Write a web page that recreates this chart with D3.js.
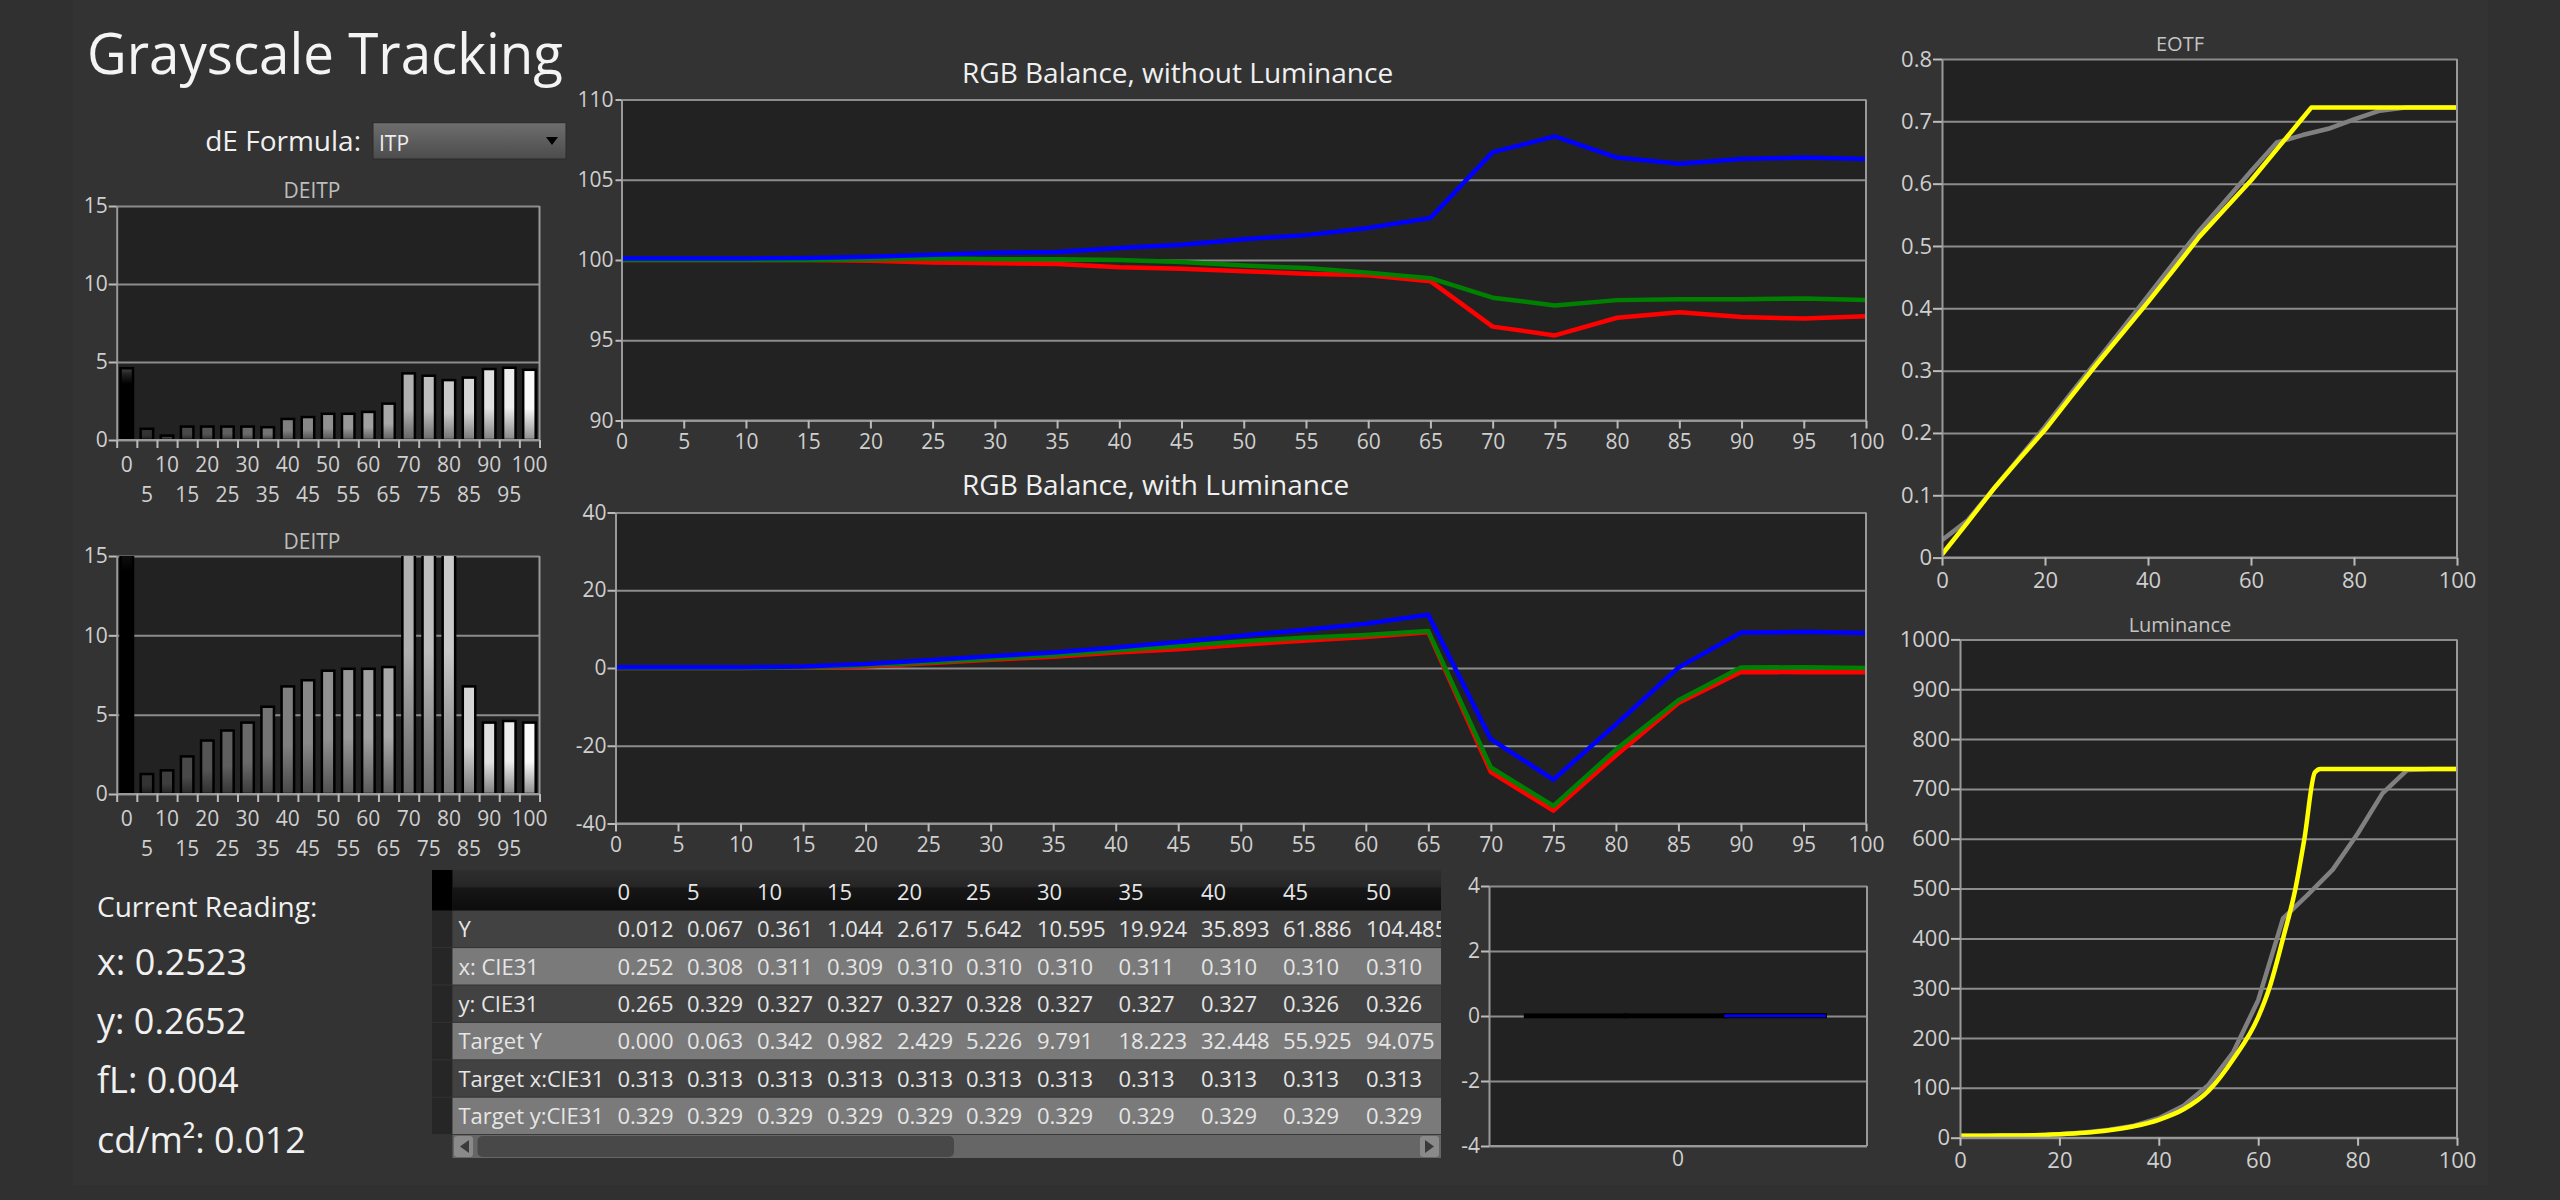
<!DOCTYPE html>
<html><head><meta charset="utf-8">
<script src="https://cdn.jsdelivr.net/npm/d3@7"></script>
<style>
html,body{margin:0;padding:0;background:#303030}
svg{display:block}
text{font-family:"Open Sans",sans-serif}
</style></head><body>
<svg id="c" width="2560" height="1200"></svg>
<script>
// ---------- data ----------
const stimulus = [0,5,10,15,20,25,30,35,40,45,50,55,60,65,70,75,80,85,90,95,100];
const deTop    = [4.6,0.72,0.28,0.86,0.86,0.86,0.86,0.82,1.35,1.47,1.68,1.68,1.8,2.33,4.27,4.12,3.84,4.0,4.55,4.63,4.5];
const deBottom = [18,1.26,1.49,2.37,3.37,4.0,4.5,5.5,6.78,7.17,7.77,7.89,7.89,8.0,20,20,20,6.78,4.5,4.6,4.5];

const balanceBlue  = [100.1,100.1,100.1,100.12,100.2,100.32,100.45,100.5,100.75,100.95,101.3,101.55,102,102.62,106.72,107.7,106.38,106,106.3,106.38,106.3];
const balanceGreen = [100,100,100,100,100.05,100.1,100.05,100.05,100,99.88,99.65,99.5,99.2,98.87,97.65,97.17,97.5,97.55,97.56,97.6,97.5];
const balanceRed   = [100,100,100,100,99.95,99.85,99.8,99.75,99.55,99.45,99.3,99.15,99.05,98.68,95.85,95.3,96.4,96.75,96.45,96.35,96.5];

const lumBlue  = [0.2,0.2,0.2,0.4,1,2,3,4,5.3,6.7,8.3,9.8,11.4,13.7,-18.3,-28.7,-14.5,0.1,9.1,9.3,9];
const lumGreen = [0,0,0,0.2,0.7,1.5,2.4,3.3,4.5,5.6,6.8,7.8,8.5,9.5,-25.6,-35.5,-21,-8.3,0.1,0.2,0];
const lumRed   = [0,0,0,0.1,0.4,1.2,2.1,2.9,4,4.8,6,7,8,9.2,-26.8,-36.7,-22.5,-9,-1,-1.1,-1.1];

const eotfTargetX = [0,5,10,15,20,25,30,35,40,45,50,55,60,65,70,71.7,75,80,85,90,95,100];
const eotfTargetY = [0.005,0.057,0.11,0.158,0.205,0.258,0.31,0.36,0.41,0.462,0.515,0.56,0.605,0.655,0.705,0.722,0.722,0.722,0.722,0.722,0.722,0.722];
const eotfMeasuredY = [0.028,0.06,0.11,0.16,0.21,0.263,0.315,0.367,0.42,0.473,0.525,0.572,0.62,0.666,0.678,0.688,0.703,0.717,0.722,0.722,0.722];

const lumTargetX = [0,5,10,15,20,25,30,35,40,45,50,55,60,62.3,65,67.5,69.3,71.4,72.5,75,80,85,90,95,100];
const lumTargetY = [4,4,4.5,5,7,10,15,23,36,57,94,158,242,302,400,500,600,733,740,740,740,740,740,740,740];
const lumMeasuredY = [4,4,4.5,5,7,10.5,16,24,39,64,106,172,276,440,488,538,610,691,738,740,740];

const smallCategory = ["0"];
const smallSeries = ["R","G","B"];
const smallValues = [0.01,0.01,0.02];

const tableColumns = ["0","5","10","15","20","25","30","35","40","45","50"];
const rowLabels = ["Y","x: CIE31","y: CIE31","Target Y","Target x:CIE31","Target y:CIE31"];
const rowY  = ["0.012","0.067","0.361","1.044","2.617","5.642","10.595","19.924","35.893","61.886","104.485"];
const rowX31 = ["0.252","0.308","0.311","0.309","0.310","0.310","0.310","0.311","0.310","0.310","0.310"];
const rowY31 = ["0.265","0.329","0.327","0.327","0.327","0.328","0.327","0.327","0.327","0.326","0.326"];
const rowTY = ["0.000","0.063","0.342","0.982","2.429","5.226","9.791","18.223","32.448","55.925","94.075"];
const rowTX = ["0.313","0.313","0.313","0.313","0.313","0.313","0.313","0.313","0.313","0.313","0.313"];
const rowTy2 = ["0.329","0.329","0.329","0.329","0.329","0.329","0.329","0.329","0.329","0.329","0.329"];
const readings = ["x: 0.2523","y: 0.2652","fL: 0.004","cd/m²: 0.012"];

// ---------- layout ----------
const svg = d3.select("#c");
const defs = svg.append("defs");
const GRID="#8c8c8c", LABEL="#cfcfcf", PLOT="#222222";
let clipN=0;

const panelGrad = defs.append("linearGradient").attr("id","hdr").attr("x1",0).attr("x2",0).attr("y1",0).attr("y2",1);
panelGrad.selectAll("stop").data([[0,"#2e2e2e"],[0.4,"#262626"],[0.45,"#161616"],[1,"#0c0c0c"]]).join("stop").attr("offset",d=>d[0]).attr("stop-color",d=>d[1]);
const ddGrad = defs.append("linearGradient").attr("id","dd").attr("x1",0).attr("x2",0).attr("y1",0).attr("y2",1);
ddGrad.selectAll("stop").data([[0,"#6e6e6e"],[1,"#4c4c4c"]]).join("stop").attr("offset",d=>d[0]).attr("stop-color",d=>d[1]);

svg.append("rect").attr("width",2560).attr("height",1200).attr("fill","#303030");
svg.append("rect").attr("x",73).attr("y",0).attr("width",2415).attr("height",1185).attr("fill","#333333");

function text(x,y,s,size,opts={}){
  const t=svg.append("text").attr("x",x).attr("y",y).text(s)
    .attr("font-size",size).attr("fill",opts.fill||"#f0f0f0")
    .attr("text-anchor",opts.anchor||"start");
  if(opts.length) t.attr("textLength",opts.length).attr("lengthAdjust","spacingAndGlyphs");
  return t;
}

function frame(box,x,y,yTicks,opt={}){
  const w=box.x1-box.x0,h=box.y1-box.y0;
  const g=svg.append("g").attr("transform",`translate(${box.x0},${box.y0})`);
  g.append("rect").attr("width",w).attr("height",h).attr("fill",PLOT);
  const grid=g.append("g").call(d3.axisLeft(y).tickValues(yTicks).tickSize(-w).tickFormat(""));
  grid.select(".domain").remove();
  grid.selectAll("line").attr("stroke",GRID).attr("stroke-width",2);
  const id="clip"+(clipN++);
  defs.append("clipPath").attr("id",id).append("rect").attr("width",w).attr("height",h);
  const marks=g.append("g").attr("clip-path",`url(#${id})`);
  const ya=g.append("g").call(d3.axisLeft(y).tickValues(yTicks).tickSize(opt.yTick||8).tickPadding(opt.yPad||1).tickSizeOuter(0).tickFormat(String));
  ya.select(".domain").attr("stroke","#999").attr("stroke-width",2);
  ya.selectAll("line").attr("stroke","#bbb").attr("stroke-width",2);
  ya.selectAll("text").attr("font-size",opt.font||21).attr("fill",LABEL).attr("font-family","Open Sans");
  g.append("line").attr("x1",w).attr("x2",w).attr("y1",0).attr("y2",h).attr("stroke","#999").attr("stroke-width",2);
  g.append("line").attr("x1",0).attr("x2",w).attr("y1",h).attr("y2",h).attr("stroke","#999").attr("stroke-width",2);
  if(x){
    const xa=g.append("g").attr("transform",`translate(0,${h})`).call(d3.axisBottom(x).tickValues(opt.xTicks||x.domain()).tickSize(opt.xTick===undefined?8:opt.xTick).tickPadding(opt.xPad||7).tickSizeOuter(0).tickFormat(String));
    xa.select(".domain").remove();
    xa.selectAll("line").attr("stroke","#bbb").attr("stroke-width",2);
    xa.selectAll("text").attr("font-size",opt.font||21).attr("fill",LABEL).attr("font-family","Open Sans");
  }
  return {g,marks,w,h};
}

// ---------- bar charts ----------
const gray = d3.scaleLinear().domain([0,5,40,70,100]).range([0,52,130,180,255]);
stimulus.forEach(s=>{
  const l=gray(s);
  const c=v=>d3.rgb(v,v,v).formatHex();
  const stops = s===0 ? [[0,"#444444"],[0.08,"#222222"],[0.22,"#000000"],[1,"#000000"]]
                      : [[0,c(l*0.98)],[0.55,c(Math.min(255,l*0.98))],[1,c(l*0.55)]];
  defs.append("linearGradient").attr("id","bar"+s).attr("x1",0).attr("x2",0).attr("y1",0).attr("y2",1)
    .selectAll("stop").data(stops).join("stop").attr("offset",d=>d[0]).attr("stop-color",d=>d[1]);
});
function barChart(box,values,title,titleY){
  const w=box.x1-box.x0,h=box.y1-box.y0;
  const x=d3.scaleBand().domain(stimulus).range([0,w]);
  const y=d3.scaleLinear().domain([0,15]).range([h,0]);
  const f=frame(box,null,y,[0,5,10,15]);
  f.marks.selectAll("rect").data(stimulus).join("rect")
    .attr("x",d=>x(d)+x.bandwidth()*0.19).attr("width",x.bandwidth()*0.62)
    .attr("y",(d,i)=>y(values[i])).attr("height",(d,i)=>h-y(values[i]))
    .attr("fill",d=>`url(#bar${d})`).attr("stroke","#000").attr("stroke-width",2.5);
  const edges=d3.scaleLinear().domain([0,stimulus.length]).range([0,w]);
  const tk=f.g.append("g").attr("transform",`translate(0,${h})`).call(d3.axisBottom(edges).tickValues(d3.range(stimulus.length+1)).tickSize(8).tickFormat("").tickSizeOuter(0));
  tk.select(".domain").remove();
  tk.selectAll("line").attr("stroke","#bbb").attr("stroke-width",2);
  const lb=f.g.append("g").attr("transform",`translate(0,${h})`).call(d3.axisBottom(x).tickSize(0).tickPadding(0));
  lb.select(".domain").remove();
  lb.selectAll("line").remove();
  lb.selectAll("text").attr("font-size",21).attr("fill",LABEL).attr("font-family","Open Sans")
    .attr("dy",0).attr("y",(d,i)=>i%2?62:32);
  text(312,titleY,title,21,{fill:"#bdbdbd",anchor:"middle"});
}
barChart({x0:116.7,x1:539.5,y0:206,y1:440},deTop,"DEITP",198);
barChart({x0:116.7,x1:539.5,y0:556,y1:794},deBottom,"DEITP",549);

// ---------- line charts ----------
function lineChart(box,xs,domainY,yTicks,xTicks,series,opt){
  const w=box.x1-box.x0,h=box.y1-box.y0;
  const x=d3.scaleLinear().domain([0,100]).range([0,w]);
  const y=d3.scaleLinear().domain(domainY).range([h,0]);
  const f=frame(box,x,y,yTicks,Object.assign({xTicks},opt));
  series.forEach(s=>{
    const sx=s.x||xs;
    const line=d3.line().x((d,i)=>x(sx[i])).y(d=>y(d));
    if(s.curve) line.curve(s.curve);
    f.marks.append("path").attr("d",line(s.v)).attr("fill","none").attr("stroke",s.c)
      .attr("stroke-width",s.w||4.5).attr("stroke-linejoin","round");
  });
}
lineChart({x0:621.5,x1:1866,y0:99.5,y1:420.5},stimulus,[90,110],[90,95,100,105,110],stimulus,
  [{v:balanceRed,c:"#ff0000"},{v:balanceGreen,c:"#008000"},{v:balanceBlue,c:"#0000ff"}],{yTick:6,yPad:2,xPad:6});
lineChart({x0:615.5,x1:1866,y0:512.5,y1:823.5},stimulus,[-40,40],[-40,-20,0,20,40],stimulus,
  [{v:lumRed,c:"#ff0000"},{v:lumGreen,c:"#008000"},{v:lumBlue,c:"#0000ff"}],{yTick:8,yPad:1,xPad:6});
lineChart({x0:1942,x1:2457,y0:59,y1:557.6},stimulus,[0,0.8],[0,.1,.2,.3,.4,.5,.6,.7,.8],[0,20,40,60,80,100],
  [{v:eotfMeasuredY,c:"#808080"},{v:eotfTargetY,x:eotfTargetX,c:"#ffff00"}],{yTick:9,font:22});
lineChart({x0:1960,x1:2457,y0:639.4,y1:1137.7},stimulus,[0,1000],[0,100,200,300,400,500,600,700,800,900,1000],[0,20,40,60,80,100],
  [{v:lumMeasuredY,c:"#808080"},{v:lumTargetY,x:lumTargetX,c:"#ffff00",curve:d3.curveMonotoneX}],{yTick:9,font:22});

text(2180,51,"EOTF",20,{fill:"#c4c4c4",anchor:"middle"});
text(2180,632,"Luminance",20,{fill:"#c4c4c4",anchor:"middle"});
text(962,83,"RGB Balance, without Luminance",28);
text(962,495,"RGB Balance, with Luminance",28);

// ---------- small bar chart ----------
(function(){
  const box={x0:1489,x1:1867,y0:886,y1:1146};
  const w=box.x1-box.x0,h=box.y1-box.y0;
  const x=d3.scaleBand().domain(smallCategory).range([0,w]);
  const y=d3.scaleLinear().domain([-4,4]).range([h,0]);
  const f=frame(box,x,y,[-4,-2,0,2,4],{xTick:0,xPad:5});
  const inner=d3.scaleBand().domain(smallSeries).range([x.bandwidth()*0.098,x.bandwidth()*0.888]);
  const colour=d3.scaleOrdinal().domain(smallSeries).range(["#000000","#000000","#0000ff"]);
  const bar=(sel)=>sel.attr("x",d=>inner(d)).attr("width",inner.bandwidth())
    .attr("y",(d,i)=>y(smallValues[i])).attr("height",(d,i)=>y(0)-y(smallValues[i])).attr("fill","none");
  f.marks.selectAll("rect.o").data(smallSeries).join("rect").attr("class","o").call(bar).attr("stroke","#000").attr("stroke-width",4.5);
  f.marks.selectAll("rect.i").data(smallSeries).join("rect").attr("class","i").call(bar).attr("stroke",d=>colour(d)).attr("stroke-width",2);
})();

// ---------- table ----------
(function(){
  const left=452.5,right=1441,headTop=870,headBot=910.7,rowH=37.4;
  const colX=d3.scaleOrdinal().domain(tableColumns).range([617.4,687,757,827,897,966,1037,1118.4,1201,1283,1366]);
  const rows=[rowY,rowX31,rowY31,rowTY,rowTX,rowTy2];
  const rowScale=d3.scaleBand().domain(rowLabels).range([headBot,headBot+rowH*6]);
  svg.append("rect").attr("x",left).attr("y",headTop).attr("width",right-left).attr("height",headBot-headTop).attr("fill","url(#hdr)");
  svg.append("rect").attr("x",432).attr("y",headTop).attr("width",20.5).attr("height",headBot-headTop).attr("fill","#000");
  svg.selectAll("rect.gut").data(rowLabels).join("rect").attr("class","gut")
    .attr("x",432).attr("width",20.5).attr("y",d=>rowScale(d)).attr("height",rowH-1).attr("fill","#262626");
  svg.selectAll("rect.row").data(rowLabels).join("rect").attr("class","row")
    .attr("x",left).attr("width",right-left).attr("y",d=>rowScale(d)).attr("height",rowH-1)
    .attr("fill",(d,i)=>i%2?"#7a7a7a":"#424242");
  defs.append("clipPath").attr("id","tbl").append("rect").attr("x",left).attr("y",headTop).attr("width",right-left).attr("height",300);
  const t=svg.append("g").attr("clip-path","url(#tbl)").attr("font-size",22).attr("fill","#e6e6e6");
  t.selectAll("text.h").data(tableColumns).join("text").attr("class","h").attr("x",d=>colX(d)).attr("y",899.5).text(d=>d);
  t.selectAll("text.l").data(rowLabels).join("text").attr("class","l").attr("x",458.5).attr("y",d=>rowScale(d)+26.5).text(d=>d);
  rows.forEach((r,ri)=>{
    t.selectAll("text.r"+ri).data(r).join("text").attr("class","r"+ri)
      .attr("x",(d,i)=>colX(tableColumns[i])).attr("y",rowScale(rowLabels[ri])+26.5).text(d=>d);
  });
  // scrollbar
  const sy=1135,sh=23;
  svg.append("rect").attr("x",left).attr("y",sy).attr("width",right-left).attr("height",sh).attr("fill","#666666");
  svg.append("rect").attr("x",477.5).attr("y",sy+1).attr("width",476.5).attr("height",sh-2).attr("rx",5).attr("fill","#484848");
  [[454,"M469,1140 L460,1146.5 L469,1153 Z"],[1420,"M1425,1140 L1434,1146.5 L1425,1153 Z"]].forEach(([bx,p])=>{
    svg.append("rect").attr("x",bx).attr("y",sy+1).attr("width",19).attr("height",sh-2).attr("rx",3).attr("fill","#8a8a8a");
    svg.append("path").attr("d",p).attr("fill","#3a3a3a");
  });
})();

// ---------- texts ----------
text(87,74,"Grayscale Tracking",57,{fill:"#f4f4f4",length:476});
text(361,151,"dE Formula:",28,{anchor:"end"});
svg.append("rect").attr("x",373).attr("y",122.7).attr("width",193).attr("height",36.3).attr("fill","url(#dd)").attr("stroke","#2a2a2a");
text(379,151,"ITP",21,{fill:"#eeeeee"});
svg.append("path").attr("d","M546,137 L558,137 L552,145 Z").attr("fill","#000");
text(97,917,"Current Reading:",28);
const readY=[974.5,1033.5,1093,1152.7];
svg.selectAll("text.rd").data(readings).join("text").attr("class","rd")
  .attr("x",97).attr("y",(d,i)=>readY[i]).attr("font-size",36).attr("fill","#f0f0f0").text(d=>d);
</script>
</body></html>
